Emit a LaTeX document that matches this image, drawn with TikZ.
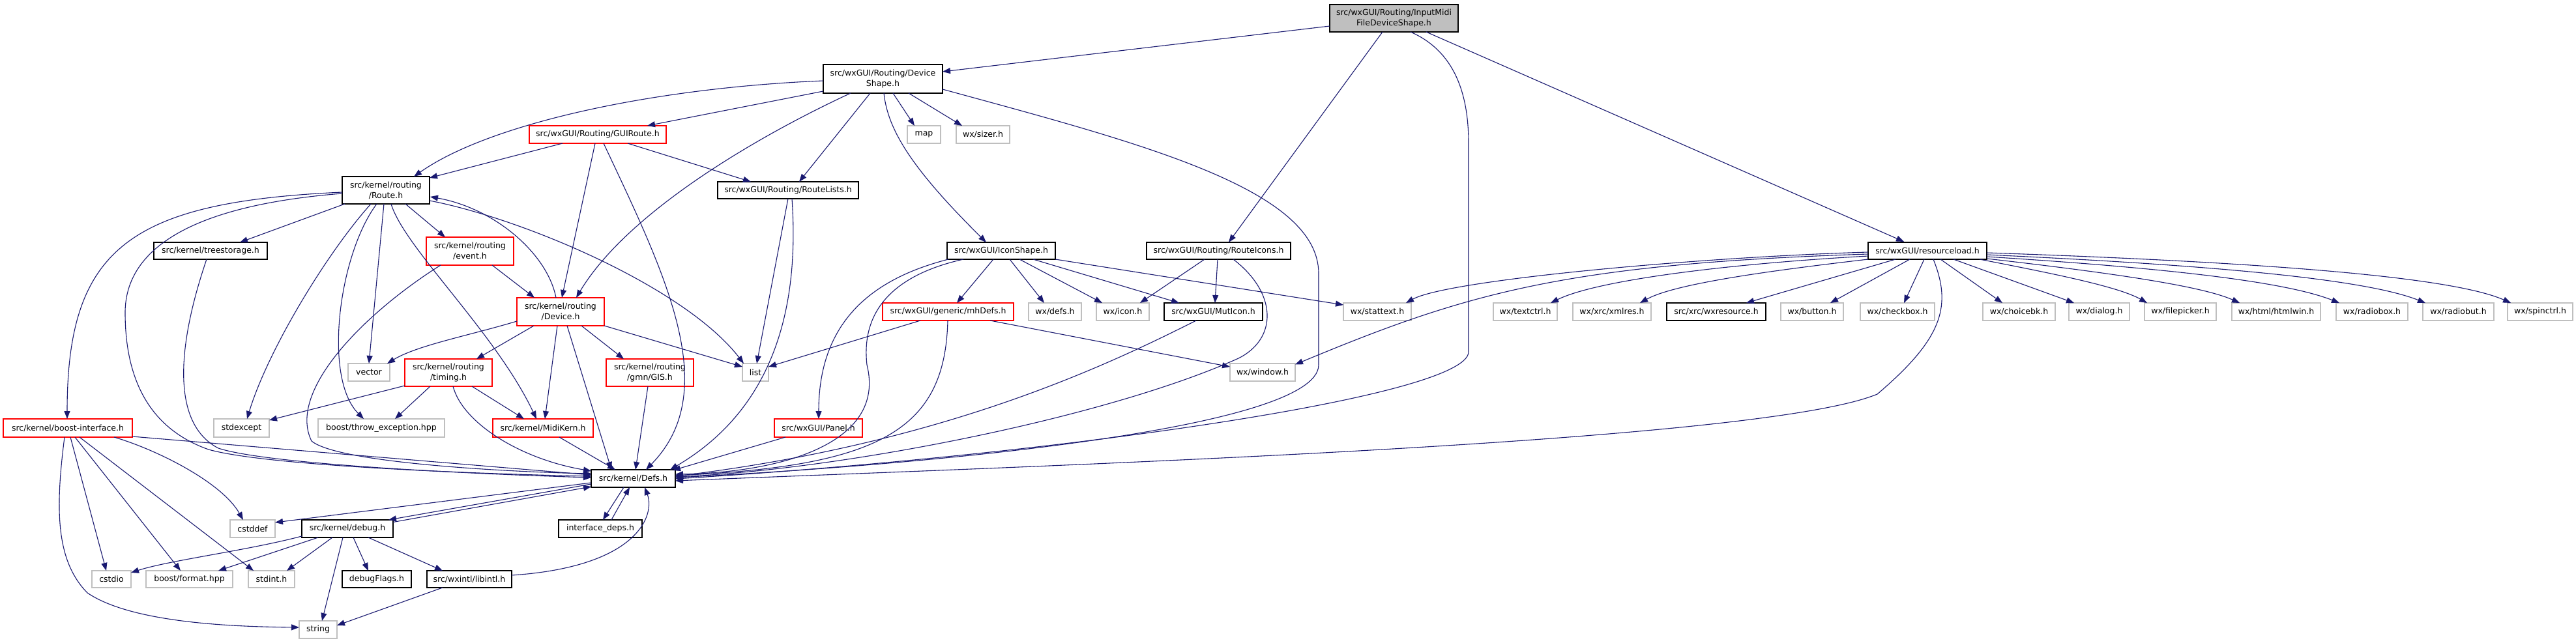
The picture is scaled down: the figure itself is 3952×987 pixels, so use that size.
\documentclass[tikz,border=0pt]{standalone}
\usepackage{fontspec}
\setmainfont{DejaVu Sans}
\usetikzlibrary{arrows.meta}
\definecolor{navy}{HTML}{191970}
\definecolor{gborder}{HTML}{BFBFBF}
\definecolor{rborder}{HTML}{FF0000}
\definecolor{rootfill}{HTML}{BFBFBF}
\begin{document}
\begin{tikzpicture}[x=1pt,y=-1pt,
  every node/.style={font=\fontsize{12.5}{16}\selectfont},
  base/.style={rectangle, inner sep=0pt, align=center, line width=1.2pt, fill=white, minimum height=27},
  nbox/.style={base, draw=black},
  gbox/.style={base, draw=gborder},
  rbox/.style={base, draw=rborder},
  rootbox/.style={base, draw=black, fill=rootfill},
  dep/.style={draw=navy, line width=1.1pt, -{Triangle[length=12pt,width=9pt]}},
]
\useasboundingbox[fill=white] (0,0) rectangle (3952,987);

% ---------- nodes ----------
\node[rootbox, minimum width=197, minimum height=42] (root) at (2138.5,28) {src/wxGUI/Routing/InputMidi\\FileDeviceShape.h};
\node[nbox, minimum width=183, minimum height=44] (devshape) at (1354.5,121) {src/wxGUI/Routing/Device\\Shape.h};
\node[gbox, minimum width=51] (map) at (1417.5,206.5) {map};
\node[gbox, minimum width=82] (sizer) at (1508,206.5) {wx/sizer.h};
\node[rbox, minimum width=210] (guiroute) at (917,206.5) {src/wxGUI/Routing/GUIRoute.h};
\node[nbox, minimum width=134, minimum height=42] (route) at (592,292) {src/kernel/routing\\/Route.h};
\node[nbox, minimum width=216, minimum height=26] (routelists) at (1209,292) {src/wxGUI/Routing/RouteLists.h};
\node[nbox, minimum width=174, minimum height=26] (treestorage) at (323,385) {src/kernel/treestorage.h};
\node[rbox, minimum width=134, minimum height=43] (event) at (721,385.5) {src/kernel/routing\\/event.h};
\node[rbox, minimum width=134, minimum height=43] (device) at (860,478.5) {src/kernel/routing\\/Device.h};
\node[nbox, minimum width=166, minimum height=26] (iconshape) at (1536,385) {src/wxGUI/IconShape.h};
\node[nbox, minimum width=221, minimum height=26] (routeicons) at (1869.5,385) {src/wxGUI/Routing/RouteIcons.h};
\node[nbox, minimum width=182, minimum height=26] (resourceload) at (2957,385) {src/wxGUI/resourceload.h};
\node[gbox, minimum width=64] (vector) at (566,571.5) {vector};
\node[rbox, minimum width=134, minimum height=42] (timing) at (688,572) {src/kernel/routing\\/timing.h};
\node[rbox, minimum width=134, minimum height=42] (gis) at (997,572) {src/kernel/routing\\/gmn/GIS.h};
\node[gbox, minimum width=40] (list) at (1159,571.5) {list};
\node[rbox, minimum width=201] (mhdefs) at (1454.5,478.5) {src/wxGUI/generic/mhDefs.h};
\node[gbox, minimum width=81] (wxdefs) at (1618.5,478.5) {wx/defs.h};
\node[gbox, minimum width=81] (wxicon) at (1722.5,478.5) {wx/icon.h};
\node[nbox, minimum width=151] (muticon) at (1861.5,478.5) {src/wxGUI/MutIcon.h};
\node[gbox, minimum width=104] (stattext) at (2113,478.5) {wx/stattext.h};
\node[gbox, minimum width=100] (window) at (1937,571.5) {wx/window.h};
\node[gbox, minimum width=98] (textctrl) at (2340,478.5) {wx/textctrl.h};
\node[gbox, minimum width=120] (xmlres) at (2473,478.5) {wx/xrc/xmlres.h};
\node[nbox, minimum width=152] (wxresource) at (2633,478.5) {src/xrc/wxresource.h};
\node[gbox, minimum width=96] (button) at (2780,478.5) {wx/button.h};
\node[gbox, minimum width=114] (checkbox) at (2911,478.5) {wx/checkbox.h};
\node[gbox, minimum width=111] (choicebk) at (3097.5,478.5) {wx/choicebk.h};
\node[gbox, minimum width=93] (dialog) at (3220.5,478.5) {wx/dialog.h};
\node[gbox, minimum width=110] (filepicker) at (3345,478.5) {wx/filepicker.h};
\node[gbox, minimum width=136] (htmlwin) at (3492,478.5) {wx/html/htmlwin.h};
\node[gbox, minimum width=110] (radiobox) at (3639,478.5) {wx/radiobox.h};
\node[gbox, minimum width=109] (radiobut) at (3771.5,478.5) {wx/radiobut.h};
\node[gbox, minimum width=100] (spinctrl) at (3897,478.5) {wx/spinctrl.h};
\node[rbox, minimum width=198, minimum height=28] (boostif) at (104,657) {src/kernel/boost-interface.h};
\node[gbox, minimum width=85, minimum height=28] (stdexcept) at (370.5,657) {stdexcept};
\node[gbox, minimum width=194, minimum height=28] (throwex) at (585,657) {boost/throw\_exception.hpp};
\node[rbox, minimum width=154, minimum height=28] (midikern) at (833,657) {src/kernel/MidiKern.h};
\node[rbox, minimum width=135, minimum height=28] (panel) at (1255.5,657) {src/wxGUI/Panel.h};
\node[nbox, minimum width=129] (defs) at (971.5,734.5) {src/kernel/Defs.h};
\node[gbox, minimum width=69] (cstddef) at (387.5,811.5) {cstddef};
\node[nbox, minimum width=140] (debug) at (533,811.5) {src/kernel/debug.h};
\node[nbox, minimum width=128] (ifdeps) at (921,811.5) {interface\_deps.h};
\node[gbox, minimum width=60, minimum height=26] (cstdio) at (171,889) {cstdio};
\node[gbox, minimum width=133, minimum height=26] (format) at (290.5,889) {boost/format.hpp};
\node[gbox, minimum width=71, minimum height=26] (stdint) at (416.5,889) {stdint.h};
\node[nbox, minimum width=106, minimum height=26] (debugflags) at (578,889) {debugFlags.h};
\node[nbox, minimum width=130, minimum height=26] (libintl) at (720,889) {src/wxintl/libintl.h};
\node[gbox, minimum width=58] (string) at (488,966.5) {string};

% ---------- edges ----------
% root
\draw[dep] ([shift={(-98.5,12)}]root.center) -- ([shift={(91.5,-11)}]devshape.center);
\draw[dep] ([shift={(-17.5,21)}]root.center) -- ([shift={(15.5,-13)}]routeicons.center);
\draw[dep] ([shift={(25.5,21)}]root.center) .. controls (2235,80) and (2253,150) .. (2253,220) -- (2253,540) .. controls (2253,610) and (1600,700) .. ([shift={(64.5,0.5)}]defs.center);
\draw[dep] ([shift={(49.5,21)}]root.center) -- ([shift={(-36,-14)}]resourceload.center);
% DeviceShape
\draw[dep] ([shift={(-91.5,3)}]devshape.center) .. controls (1000,135) and (750,190) .. ([shift={(43,-21)}]route.center);
\draw[dep] ([shift={(-91.5,19)}]devshape.center) -- ([shift={(76,-13.5)}]guiroute.center);
\draw[dep] ([shift={(-49.5,22)}]devshape.center) .. controls (1150,215) and (960,330) .. ([shift={(24,-21.5)}]device.center);
\draw[dep] ([shift={(-19.5,22)}]devshape.center) -- ([shift={(17,-13)}]routelists.center);
\draw[dep] ([shift={(1.5,22)}]devshape.center) .. controls (1362,200) and (1400,260) .. ([shift={(-23,-13)}]iconshape.center);
\draw[dep] ([shift={(15.5,22)}]devshape.center) -- ([shift={(-14.5,-13.5)}]map.center);
\draw[dep] ([shift={(39.5,22)}]devshape.center) -- ([shift={(-32,-13.5)}]sizer.center);
\draw[dep] ([shift={(91.5,16)}]devshape.center) .. controls (1750,220) and (2023,290) .. (2023,420) -- (2023,560) .. controls (2023,660) and (1400,715) .. ([shift={(64.5,-1.5)}]defs.center);
% GUIRoute
\draw[dep] ([shift={(-54,13.5)}]guiroute.center) -- ([shift={(67,-19)}]route.center);
\draw[dep] ([shift={(-4,13.5)}]guiroute.center) -- ([shift={(2,-21.5)}]device.center);
\draw[dep] ([shift={(9,13.5)}]guiroute.center) .. controls (1020,420) and (1110,600) .. ([shift={(19.5,-13.5)}]defs.center);
\draw[dep] ([shift={(46,13.5)}]guiroute.center) -- ([shift={(-57,-13)}]routelists.center);
% Route
\draw[dep] ([shift={(-63,21)}]route.center) -- ([shift={(45,-13)}]treestorage.center);
\draw[dep] ([shift={(30,21)}]route.center) -- ([shift={(-38,-21.5)}]event.center);
\draw[dep] ([shift={(-3,21)}]route.center) -- ([shift={(0,-13.5)}]vector.center);
\draw[dep] ([shift={(-67,3)}]route.center) .. controls (200,310) and (103,380) .. ([shift={(-1,-14)}]boostif.center);
\draw[dep] ([shift={(-67,5)}]route.center) .. controls (260,318) and (192,400) .. (192,480) .. controls (192,590) and (235,660) .. (320,690) .. controls (420,718) and (800,729) .. ([shift={(-64.5,-3.5)}]defs.center);
\draw[dep] ([shift={(-23,21)}]route.center) .. controls (500,390) and (410,540) .. ([shift={(8.5,-14)}]stdexcept.center);
\draw[dep] ([shift={(-14,21)}]route.center) .. controls (520,390) and (495,580) .. ([shift={(-27,-14)}]throwex.center);
\draw[dep] ([shift={(8,21)}]route.center) .. controls (620,380) and (760,510) .. ([shift={(-10,-14)}]midikern.center);
\draw[dep] ([shift={(67,16)}]route.center) .. controls (800,335) and (1050,440) .. ([shift={(-18,-13.5)}]list.center);
\draw[dep] ([shift={(-7,-21.5)}]device.center) .. controls (840,390) and (760,320) .. ([shift={(68,10)}]route.center);
% treestorage, event
\draw[dep] ([shift={(-6,13)}]treestorage.center) .. controls (272,530) and (262,650) .. (335,688) .. controls (420,716) and (800,730) .. ([shift={(-64.5,-1.5)}]defs.center);
\draw[dep] ([shift={(34,21.5)}]event.center) -- ([shift={(-40,-21.5)}]device.center);
\draw[dep] ([shift={(-45,21.5)}]event.center) .. controls (560,480) and (440,600) .. (478,677) .. controls (520,712) and (800,725) .. ([shift={(-64.5,-7.5)}]defs.center);
% Device
\draw[dep] ([shift={(-67,14.5)}]device.center) .. controls (720,515) and (640,530) .. ([shift={(28,-13.5)}]vector.center);
\draw[dep] ([shift={(-41,21.5)}]device.center) -- ([shift={(43,-21)}]timing.center);
\draw[dep] ([shift={(-5,21.5)}]device.center) -- ([shift={(3,-14)}]midikern.center);
\draw[dep] ([shift={(10,21.5)}]device.center) -- ([shift={(-33.5,-13.5)}]defs.center);
\draw[dep] ([shift={(32,21.5)}]device.center) -- ([shift={(-40,-21)}]gis.center);
\draw[dep] ([shift={(67,21.5)}]device.center) -- ([shift={(-20,-8.5)}]list.center);
% timing, gis, midikern
\draw[dep] ([shift={(-67,20)}]timing.center) -- ([shift={(42.5,-12)}]stdexcept.center);
\draw[dep] ([shift={(-28,21)}]timing.center) -- ([shift={(21,-14)}]throwex.center);
\draw[dep] ([shift={(36,21)}]timing.center) -- ([shift={(-29,-14)}]midikern.center);
\draw[dep] ([shift={(7,21)}]timing.center) .. controls (710,650) and (800,705) .. ([shift={(-64.5,-11.5)}]defs.center);
\draw[dep] ([shift={(-3,21)}]gis.center) -- ([shift={(3.5,-13.5)}]defs.center);
\draw[dep] ([shift={(25,14)}]midikern.center) -- ([shift={(-27.5,-13.5)}]defs.center);
% RouteLists
\draw[dep] ([shift={(0,13)}]routelists.center) -- ([shift={(2,-13.5)}]list.center);
\draw[dep] ([shift={(6,13)}]routelists.center) .. controls (1225,450) and (1200,620) .. ([shift={(56.5,-13.5)}]defs.center);
% mhDefs
\draw[dep] ([shift={(-42.5,13.5)}]mhdefs.center) -- ([shift={(20,-8.5)}]list.center);
\draw[dep] ([shift={(64.5,13.5)}]mhdefs.center) -- ([shift={(-50,-8.5)}]window.center);
\draw[dep] ([shift={(-0.5,13.5)}]mhdefs.center) .. controls (1450,660) and (1350,715) .. ([shift={(64.5,-4.5)}]defs.center);
% IconShape
\draw[dep] ([shift={(-12,13)}]iconshape.center) -- ([shift={(13.5,-13.5)}]mhdefs.center);
\draw[dep] ([shift={(13,13)}]iconshape.center) -- ([shift={(-16.5,-13.5)}]wxdefs.center);
\draw[dep] ([shift={(28,13)}]iconshape.center) -- ([shift={(-31.5,-13.5)}]wxicon.center);
\draw[dep] ([shift={(49,13)}]iconshape.center) -- ([shift={(-52.5,-13.5)}]muticon.center);
\draw[dep] ([shift={(83,13)}]iconshape.center) -- ([shift={(-52,-10.5)}]stattext.center);
\draw[dep] ([shift={(-81,13)}]iconshape.center) .. controls (1330,430) and (1256,500) .. ([shift={(0.5,-14)}]panel.center);
\draw[dep] ([shift={(-58,13)}]iconshape.center) .. controls (1380,420) and (1320,470) .. (1330,560) .. controls (1360,680) and (1200,725) .. ([shift={(64.5,-6.5)}]defs.center);
% RouteIcons, MutIcon
\draw[dep] ([shift={(-21.5,13)}]routeicons.center) -- ([shift={(26.5,-13.5)}]wxicon.center);
\draw[dep] ([shift={(-1.5,13)}]routeicons.center) -- ([shift={(2.5,-13.5)}]muticon.center);
\draw[dep] ([shift={(22.5,13)}]routeicons.center) .. controls (1960,450) and (1960,520) .. (1900,550) .. controls (1700,640) and (1300,720) .. ([shift={(64.5,-2.5)}]defs.center);
\draw[dep] ([shift={(-26.5,13.5)}]muticon.center) .. controls (1700,560) and (1450,680) .. ([shift={(64.5,-3.5)}]defs.center);
% resourceload
\draw[dep] ([shift={(-91,2)}]resourceload.center) .. controls (2600,395) and (2220,430) .. ([shift={(44,-13.5)}]stattext.center);
\draw[dep] ([shift={(-91,5)}]resourceload.center) .. controls (2400,405) and (2250,450) .. ([shift={(50,-12)}]window.center);
\draw[dep] ([shift={(-91,8)}]resourceload.center) .. controls (2650,405) and (2450,430) .. ([shift={(39,-13.5)}]textctrl.center);
\draw[dep] ([shift={(-91,13)}]resourceload.center) .. controls (2720,415) and (2570,435) .. ([shift={(43,-13.5)}]xmlres.center);
\draw[dep] ([shift={(-49,13)}]resourceload.center) -- ([shift={(46,-13.5)}]wxresource.center);
\draw[dep] ([shift={(-27,13)}]resourceload.center) -- ([shift={(28,-13.5)}]button.center);
\draw[dep] ([shift={(-5,13)}]resourceload.center) -- ([shift={(10,-13.5)}]checkbox.center);
\draw[dep] ([shift={(9,13)}]resourceload.center) .. controls (2995,470) and (2980,520) .. (2880,605) .. controls (2700,680) and (1600,715) .. ([shift={(64.5,3.5)}]defs.center);
\draw[dep] ([shift={(20,13)}]resourceload.center) -- ([shift={(-25.5,-13.5)}]choicebk.center);
\draw[dep] ([shift={(40,13)}]resourceload.center) -- ([shift={(-38.5,-13.5)}]dialog.center);
\draw[dep] ([shift={(80,13)}]resourceload.center) .. controls (3150,420) and (3250,440) .. ([shift={(-51,-13.5)}]filepicker.center);
\draw[dep] ([shift={(91,12)}]resourceload.center) .. controls (3250,420) and (3380,440) .. ([shift={(-56,-13.5)}]htmlwin.center);
\draw[dep] ([shift={(91,9)}]resourceload.center) .. controls (3300,410) and (3500,430) .. ([shift={(-50,-13.5)}]radiobox.center);
\draw[dep] ([shift={(91,6)}]resourceload.center) .. controls (3350,405) and (3620,425) .. ([shift={(-50.5,-13.5)}]radiobut.center);
\draw[dep] ([shift={(91,3)}]resourceload.center) .. controls (3400,400) and (3750,420) .. ([shift={(-45,-13.5)}]spinctrl.center);
% boost-interface
\draw[dep] ([shift={(4,14)}]boostif.center) -- ([shift={(-8,-13)}]cstdio.center);
\draw[dep] ([shift={(11,14)}]boostif.center) -- ([shift={(-13.5,-13)}]format.center);
\draw[dep] ([shift={(18,14)}]boostif.center) -- ([shift={(-27.5,-13)}]stdint.center);
\draw[dep] ([shift={(-5,14)}]boostif.center) .. controls (85,780) and (85,860) .. (134,910) .. controls (200,955) and (350,962) .. ([shift={(-29,-3.5)}]string.center);
\draw[dep] ([shift={(71,14)}]boostif.center) .. controls (240,690) and (340,740) .. ([shift={(-14.5,-13.5)}]cstddef.center);
\draw[dep] ([shift={(99,13)}]boostif.center) -- ([shift={(-64.5,-5.5)}]defs.center);
% Defs and below
\draw[dep] ([shift={(-64.5,6.5)}]defs.center) -- ([shift={(34.5,-9.5)}]cstddef.center);
\draw[dep] ([shift={(-64.5,8.5)}]defs.center) -- ([shift={(63,-13.5)}]debug.center);
\draw[dep] ([shift={(70,-10)}]debug.center) -- ([shift={(-64.5,12.5)}]defs.center);
\draw[dep] ([shift={(-14.5,13.5)}]defs.center) -- ([shift={(4,-13.5)}]ifdeps.center);
\draw[dep] ([shift={(17,-13.5)}]ifdeps.center) -- ([shift={(-5.5,13.5)}]defs.center);
\draw[dep] ([shift={(65,-6)}]libintl.center) .. controls (980,870) and (1005,790) .. ([shift={(17.5,13.5)}]defs.center);
\draw[dep] ([shift={(-50.5,14)}]panel.center) -- ([shift={(60.5,-12.5)}]defs.center);
% debug
\draw[dep] ([shift={(-70,11.5)}]debug.center) .. controls (380,845) and (260,860) .. ([shift={(30,-10)}]cstdio.center);
\draw[dep] ([shift={(-45,13.5)}]debug.center) -- ([shift={(44.5,-13)}]format.center);
\draw[dep] ([shift={(-23,13.5)}]debug.center) -- ([shift={(23.5,-13)}]stdint.center);
\draw[dep] ([shift={(-7,13.5)}]debug.center) -- ([shift={(6,-13.5)}]string.center);
\draw[dep] ([shift={(9,13.5)}]debug.center) -- ([shift={(-13,-13)}]debugflags.center);
\draw[dep] ([shift={(32,13.5)}]debug.center) -- ([shift={(-41,-13)}]libintl.center);
\draw[dep] ([shift={(-41,13)}]libintl.center) -- ([shift={(29,-6.5)}]string.center);
\end{tikzpicture}
\end{document}
